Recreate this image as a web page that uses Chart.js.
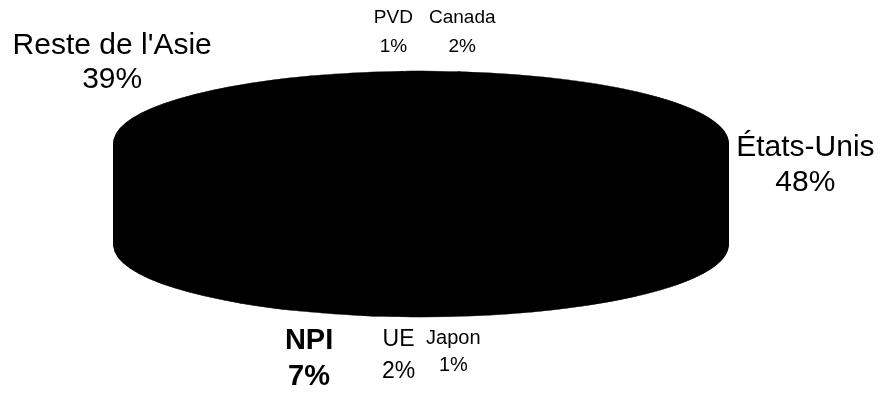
<!DOCTYPE html>
<html>
<head>
<meta charset="utf-8">
<script src="https://cdn.jsdelivr.net/npm/chart.js@4/dist/chart.umd.min.js"></script>
<style>
  html, body { margin: 0; padding: 0; background: #fff; }
  canvas { display: block; }
</style>
</head>
<body>
<canvas id="pieChart" width="882" height="398"></canvas>
<script>
// Data, clockwise from 12 o'clock
const regions = ['Canada', 'États-Unis', 'Japon', 'UE', 'NPI', "Reste de l'Asie", 'PVD'];
const shares = [2, 48, 1, 2, 7, 39, 1];

// 3D ellipse projection of the pie
const CX = 421, CY = 143, RX = 307, RY = 72, DEPTH = 102;

// Label styling (font size, bold, line gap, nudge from rim point)
const labelSize = [19, 30, 20, 23, 29, 30, 19];
const labelBold = [false, false, false, false, true, false, false];
const labelGap = [29, 35, 27, 32, 36, 34, 29];
const labelNudge = [[22, -53], [78, -54], [42, 22], [16, 24], [10, 34], [-14, -114], [-18, -53]];

const FONT = '"Liberation Sans", Arial, sans-serif';

function project(ctx, arc) {
    const r = arc.outerRadius;
    ctx.translate(CX, CY);
    ctx.scale(RX / r, RY / r);
    ctx.translate(-arc.x, -arc.y);
}

const pie3d = {
    id: 'pie3d',
    beforeDatasetsDraw(chart) {
        const ctx = chart.ctx;
        const arcs = chart.getDatasetMeta(0).data;
        // side wall: stack the slices downward
        for (let d = DEPTH; d > 0; d--) {
            ctx.save();
            ctx.translate(0, d);
            project(ctx, arcs[0]);
            arcs.forEach(a => a.draw(ctx));
            ctx.restore();
        }
        // top face is drawn by the library under this transform
        ctx.save();
        project(ctx, arcs[0]);
    },
    afterDatasetsDraw(chart) {
        chart.ctx.restore();
    },
    afterDraw(chart) {
        const ctx = chart.ctx;
        const arcs = chart.getDatasetMeta(0).data;
        const total = shares.reduce((a, b) => a + b, 0);
        ctx.save();
        ctx.fillStyle = '#000';
        ctx.textAlign = 'center';
        ctx.textBaseline = 'middle';
        arcs.forEach((arc, i) => {
            const mid = (arc.startAngle + arc.endAngle) / 2;
            const px = CX + RX * Math.cos(mid);
            const py = CY + RY * Math.sin(mid) + DEPTH * (1 + Math.sin(mid)) / 2;
            const x = px + labelNudge[i][0];
            const y = py + labelNudge[i][1];
            ctx.font = (labelBold[i] ? 'bold ' : '') + labelSize[i] + 'px ' + FONT;
            ctx.fillText(regions[i], x, y);
            ctx.fillText(Math.round(shares[i] / total * 100) + '%', x, y + labelGap[i]);
        });
        ctx.restore();
    }
};

new Chart(document.getElementById('pieChart'), {
    type: 'pie',
    data: {
        labels: regions,
        datasets: [{
            data: shares,
            backgroundColor: '#000',
            borderColor: '#000',
            borderWidth: 1,
            clip: false
        }]
    },
    options: {
        responsive: false,
        animation: false,
        devicePixelRatio: 1,
        layout: { padding: 0 },
        plugins: {
            legend: { display: false },
            tooltip: { enabled: false }
        }
    },
    plugins: [pie3d]
});
</script>
</body>
</html>
